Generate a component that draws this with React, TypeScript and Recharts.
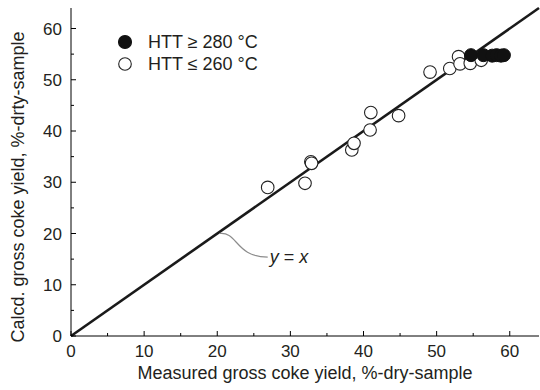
import { Legend, ReferenceLine, Scatter, ScatterChart, XAxis, YAxis } from "recharts";

// measured vs calculated gross coke yield (%-dry-sample)
const HIGH_HTT_X = [54.7, 56.4, 57.6, 58.2, 58.8, 59.2];
const HIGH_HTT_Y = [54.8, 54.8, 54.7, 54.8, 54.7, 54.8];
const LOW_HTT_X = [26.9, 32.0, 32.8, 32.9, 38.4, 38.7, 40.9, 41.0, 44.8, 49.1, 51.8, 53.0, 53.2, 54.6, 56.1];
const LOW_HTT_Y = [29.0, 29.8, 34.0, 33.7, 36.3, 37.6, 40.2, 43.6, 43.0, 51.5, 52.2, 54.5, 53.1, 53.2, 53.8];
const TICKS = [0, 5, 10, 15, 20, 25, 30, 35, 40, 45, 50, 55, 60];
const DOMAIN: [number, number] = [0, 64];
const PARITY = [{ x: 0, y: 0 }, { x: 64, y: 64 }];
const LEADER = [{ x: 20.3, y: 20.0 }, { x: 26.9, y: 15.4 }];

const HIGH_NAME = "HTT \u2265 280 \u00b0C";
const LOW_NAME = "HTT \u2264 260 \u00b0C";

const highData = HIGH_HTT_X.map((x, i) => ({ x, y: HIGH_HTT_Y[i] }));
const lowData = LOW_HTT_X.map((x, i) => ({ x, y: LOW_HTT_Y[i] }));

const FONT = "'Liberation Sans', Arial, sans-serif";
const INK = "#231f20";

const tickLen = (v: number) => (v % 10 === 0 ? 5 : 3);

// ticks point into the plot; labels only on every 10
const BottomTick = (p: any) => {
  const v = p.payload.value;
  return (
    <g>
      <line x1={p.x} y1={p.y} x2={p.x} y2={p.y - tickLen(v)} stroke="#000" />
      {v % 10 === 0 && (
        <text x={p.x} y={p.y + 21} textAnchor="middle" fontSize={17} fill={INK} fontFamily={FONT}>
          {v}
        </text>
      )}
    </g>
  );
};

const LeftTick = (p: any) => {
  const v = p.payload.value;
  return (
    <g>
      <line x1={p.x} y1={p.y} x2={p.x + tickLen(v)} y2={p.y} stroke="#000" />
      {v % 10 === 0 && (
        <text x={p.x - 9} y={p.y + 6} textAnchor="end" fontSize={17} fill={INK} fontFamily={FONT}>
          {v}
        </text>
      )}
    </g>
  );
};

const TopTick = (p: any) => (
  <line x1={p.x} y1={p.y} x2={p.x} y2={p.y + tickLen(p.payload.value)} stroke="#000" />
);

const RightTick = (p: any) => (
  <line x1={p.x} y1={p.y} x2={p.x - tickLen(p.payload.value)} y2={p.y} stroke="#000" />
);

const FilledDot = (p: any) => <circle cx={p.cx} cy={p.cy} r={6.5} fill="#111" stroke="#111" />;
const OpenDot = (p: any) => <circle cx={p.cx} cy={p.cy} r={6.3} fill="#fff" stroke="#222" strokeWidth={1.1} />;

// curved callout from the parity line to its "y = x" tag
const Leader = (p: any) => {
  const { x1, y1, x2, y2 } = p;
  const dx = x2 - x1;
  const dy = y2 - y1;
  return (
    <g>
      <path
        d={`M${x1},${y1} C${x1 + 0.375 * dx},${y1 - 0.1 * dy} ${x1 + 0.33 * dx},${y2} ${x2},${y2}`}
        fill="none"
        stroke="#8c8c8c"
        strokeWidth={1.2}
      />
      <text x={x2 + 2} y={y2 + 6} fontSize={18} fill={INK} fontFamily={FONT}>
        <tspan fontStyle="italic">y</tspan> = <tspan fontStyle="italic">x</tspan>
      </text>
    </g>
  );
};

const YLabel = (p: any) => {
  const vb = p.viewBox;
  const cx = 24;
  const cy = vb.y + vb.height / 2 + 15;
  return (
    <text
      x={cx}
      y={cy}
      transform={`rotate(-90, ${cx}, ${cy})`}
      textAnchor="middle"
      fontSize={18}
      fill={INK}
      fontFamily={FONT}
    >
      Calcd. gross coke yield, %-drty-sample
    </text>
  );
};

const LegendBox = () => (
  <div style={{ fontFamily: FONT, fontSize: 18, color: INK, lineHeight: "22px" }}>
    {[
      { name: HIGH_NAME, filled: true },
      { name: LOW_NAME, filled: false },
    ].map((e) => (
      <div key={e.name} style={{ display: "flex", alignItems: "center", height: 22 }}>
        <svg width={16} height={16} style={{ marginRight: 15 }}>
          <circle
            cx={8}
            cy={8}
            r={e.filled ? 6.5 : 6.3}
            fill={e.filled ? "#111" : "#fff"}
            stroke={e.filled ? "#111" : "#222"}
            strokeWidth={1.1}
          />
        </svg>
        <span>{e.name}</span>
      </div>
    ))}
  </div>
);

export default function App() {
  return (
    <div style={{ position: "absolute", left: 0, top: 0, background: "#fff" }}>
      <ScatterChart width={540} height={390} margin={{ top: 8, right: 1, bottom: 0, left: 0 }}>
        <XAxis
          xAxisId="b"
          type="number"
          dataKey="x"
          domain={DOMAIN}
          ticks={TICKS}
          allowDataOverflow
          height={54}
          tickSize={0}
          tickMargin={0}
          tick={BottomTick}
          axisLine={{ stroke: "#000" }}
          label={{
            value: "Measured gross coke yield, %-dry-sample",
            position: "insideBottom",
            offset: 11,
            fontSize: 18,
            fill: INK,
            fontFamily: FONT,
          }}
        />
        <XAxis
          xAxisId="t"
          orientation="top"
          type="number"
          domain={DOMAIN}
          ticks={TICKS}
          allowDataOverflow
          height={0}
          tickSize={0}
          tickMargin={0}
          tick={TopTick}
          axisLine={{ stroke: "#000" }}
        />
        <YAxis
          yAxisId="l"
          type="number"
          dataKey="y"
          domain={DOMAIN}
          ticks={TICKS}
          allowDataOverflow
          width={71}
          tickSize={0}
          tickMargin={0}
          tick={LeftTick}
          axisLine={{ stroke: "#000" }}
          label={YLabel}
        />
        <YAxis
          yAxisId="r"
          orientation="right"
          type="number"
          domain={DOMAIN}
          ticks={TICKS}
          allowDataOverflow
          width={0}
          tickSize={0}
          tickMargin={0}
          tick={RightTick}
          axisLine={{ stroke: "#000" }}
        />
        <Scatter
          name={LOW_NAME}
          data={lowData}
          xAxisId="b"
          yAxisId="l"
          shape={OpenDot}
          isAnimationActive={false}
        />
        <ReferenceLine xAxisId="b" yAxisId="l" segment={PARITY} stroke="#1a1a1a" strokeWidth={2.6} />
        <ReferenceLine xAxisId="b" yAxisId="l" segment={LEADER} shape={Leader} />
        <Scatter
          name={HIGH_NAME}
          data={highData}
          xAxisId="b"
          yAxisId="l"
          shape={FilledDot}
          isAnimationActive={false}
        />
        {/* layout/align chosen so the legend does not eat into the plot offset */}
        <Legend
          layout="vertical"
          verticalAlign="middle"
          align="center"
          content={LegendBox}
          wrapperStyle={{ left: 117, top: 31, width: 200 }}
        />
      </ScatterChart>
    </div>
  );
}
